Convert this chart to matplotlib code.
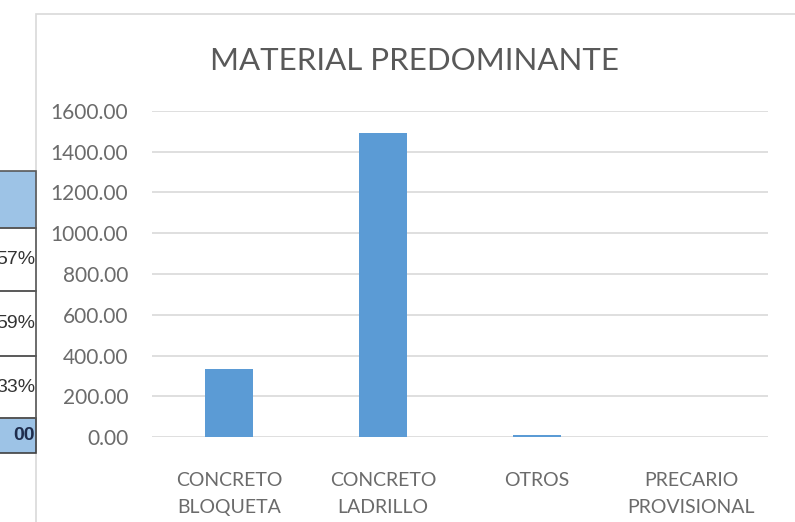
import matplotlib.pyplot as plt
from matplotlib.patches import Rectangle

categories = ["CONCRETO\nBLOQUETA", "CONCRETO\nLADRILLO", "OTROS", "PRECARIO\nPROVISIONAL"]
values = [335, 1490, 12, 0]
yticks = [0, 200, 400, 600, 800, 1000, 1200, 1400, 1600]

# fragment of the spreadsheet table at the left edge
table_texts = ["57%", "59%", "33%"]
table_total = "00"

plt.rcParams['font.family'] = ['Lato', 'DejaVu Sans']

W, H = 795, 522
fig = plt.figure(figsize=(W / 100, H / 100), dpi=100)

def fx(px):
    return px / W

def fy(py):
    return 1 - py / H

# chart area border
fig.add_artist(Rectangle((fx(36), fy(530)), fx(800) - fx(36), fy(14) - fy(530),
                         transform=fig.transFigure, fill=False, edgecolor='#d9d9d9', lw=1.2))

# table fragment
rows = [171, 228, 291, 356, 418, 453]
fig.add_artist(Rectangle((fx(-5), fy(228)), fx(41), fy(171) - fy(228), transform=fig.transFigure,
                         facecolor='#9dc3e6', edgecolor='#595959', lw=1.2))
fig.add_artist(Rectangle((fx(-5), fy(453)), fx(41), fy(418) - fy(453), transform=fig.transFigure,
                         facecolor='#9dc3e6', edgecolor='#404040', lw=1.2))
for i in range(3):
    fig.add_artist(Rectangle((fx(-5), fy(rows[i + 2])), fx(41), fy(rows[i + 1]) - fy(rows[i + 2]),
                             transform=fig.transFigure, fill=False, edgecolor='#595959', lw=1.2))
    ymid = (rows[i + 1] + rows[i + 2]) / 2
    fig.text(fx(35), fy(ymid), table_texts[i], ha='right', va='center', fontsize=14,
             family='Liberation Sans', color='#333333')
fig.text(fx(35), fy(436), table_total, ha='right', va='center', fontsize=14,
         family='Liberation Sans', color='#1f2d4d', weight='bold')

ax = fig.add_axes([fx(152), fy(437), fx(768) - fx(152), fy(111) - fy(437)])
x = range(len(categories))
ax.bar(x, values, width=0.31, color='#5b9bd5', zorder=3)
ax.set_xlim(-0.5, 3.5)
ax.set_ylim(0, 1600)
ax.set_yticks(yticks)
ax.set_yticklabels([f"{v:.2f}" for v in yticks], fontsize=15, color='#6b6b6b')
ax.set_xticks(list(x))
ax.set_xticklabels(categories, fontsize=14, color='#6b6b6b', linespacing=1.75)
ax.tick_params(length=0)
ax.tick_params(axis='y', pad=17)
ax.tick_params(axis='x', pad=25)
ax.grid(axis='y', color='#d9d9d9', lw=1.2, zorder=0)
for s in ax.spines.values():
    s.set_visible(False)

fig.text(fx(415), fy(61), "MATERIAL PREDOMINANTE", ha='center', va='center',
         fontsize=22.5, color='#595959')

plt.savefig('out.png', dpi=100)
